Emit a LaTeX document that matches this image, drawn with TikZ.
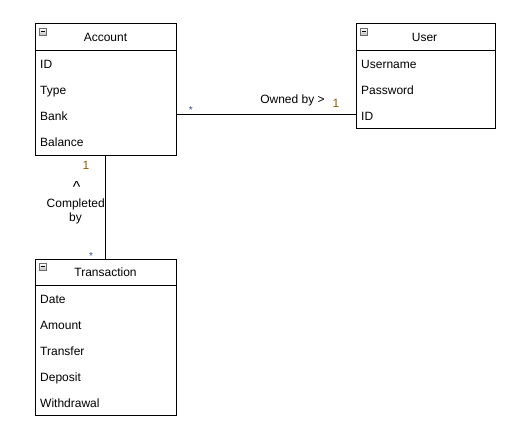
\documentclass[tikz,border=0pt]{standalone}
\usepackage{fontspec}
\setmainfont{Liberation Sans}
\definecolor{onecol}{RGB}{150,90,0}
\definecolor{starcol}{RGB}{40,80,140}
\begin{document}
\begin{tikzpicture}[x=1pt,y=-1pt,
  classbox/.style={draw=black, line width=1pt, minimum width=141pt, inner sep=0pt},
  txt/.style={inner sep=0pt, text height=8.6pt, text depth=0pt, font=\fontsize{12}{14}\selectfont},
  cell/.style={txt, anchor=west},
  lbl/.style={txt, anchor=center},
  conn/.style={draw=black, line width=1pt},
  sep/.style={draw=black, line width=0.9pt},
  iconbox/.style={draw={rgb,255:red,110;green,110;blue,110}, line width=0.9pt, top color=white, bottom color=black!25},
]
\useasboundingbox (0,0) rectangle (517,436);

% ---- Account ----
\node[classbox, minimum height=131pt] (acc) at (105.5,89.5) {};
\node[txt] (acchead) at (105.5,37.3) {Account};
\coordinate (accsep) at (105.5,50);
\draw[sep] (acc.west |- accsep) -- (acc.east |- accsep);
\node[cell] (accid) at (40,63.8) {ID};
\node[cell] (acctype) at (40,89.8) {Type};
\node[cell] (accbank) at (40,115.8) {Bank};
\node[cell] (accbal) at (40,141.8) {Balance};
\begin{scope}[shift={(acc.north west)}]
  \draw[iconbox] (5,5) rectangle (11.5,11.5);
  \draw[black, line width=1pt] (6.5,8.3) -- (10,8.3);
\end{scope}

% ---- User ----
\node[classbox, minimum width=139pt, minimum height=104pt] (usr) at (425.5,76) {};
\node[txt] (usrhead) at (424.5,37.3) {User};
\coordinate (usrsep) at (425.5,50);
\draw[sep] (usr.west |- usrsep) -- (usr.east |- usrsep);
\node[cell] (usrname) at (361,63.8) {Username};
\node[cell] (usrpw) at (361,89.8) {Password};
\node[cell] (usrid) at (361,115.8) {ID};
\begin{scope}[shift={(usr.north west)}]
  \draw[iconbox] (5,5) rectangle (11.5,11.5);
  \draw[black, line width=1pt] (6.5,8.3) -- (10,8.3);
\end{scope}

% ---- Transaction ----
\node[classbox, minimum height=156pt] (tra) at (105.5,337) {};
\node[txt] (trahead) at (105.5,272.3) {Transaction};
\coordinate (trasep) at (105.5,285);
\draw[sep] (tra.west |- trasep) -- (tra.east |- trasep);
\node[cell] (tradate) at (40,298.8) {Date};
\node[cell] (traamt) at (40,324.8) {Amount};
\node[cell] (tratrf) at (40,350.8) {Transfer};
\node[cell] (tradep) at (40,376.8) {Deposit};
\node[cell] (trawd) at (40,402.8) {Withdrawal};
\begin{scope}[shift={(tra.north west)}]
  \draw[iconbox] (5,5) rectangle (11.5,11.5);
  \draw[black, line width=1pt] (6.5,8.3) -- (10,8.3);
\end{scope}

% ---- connectors ----
\draw[conn] (acc.east |- 0,114) -- (usr.west |- 0,114);
\draw[conn] (acc.south) -- (tra.north);

% ---- labels ----
\node[lbl] (ownedby) at (292.5,98.7) {Owned by >};
\node[lbl, text=onecol] (ownone) at (336,102.7) {1};
\node[lbl, text=starcol, font=\fontsize{10}{12}\selectfont] (ownstar) at (190.8,109.5) {*};
\node[lbl, text=onecol] (compone) at (86,164.8) {1};
\node[lbl, font=\fontsize{16}{18}\selectfont] (comparrow) at (76.7,188.5) {\textasciicircum};
\node[lbl] (compl1) at (75.7,202.7) {Completed};
\node[lbl] (compl2) at (75.5,216.7) {by};
\node[lbl, text=starcol, font=\fontsize{10}{12}\selectfont] (compstar) at (91,255.2) {*};
\end{tikzpicture}
\end{document}
